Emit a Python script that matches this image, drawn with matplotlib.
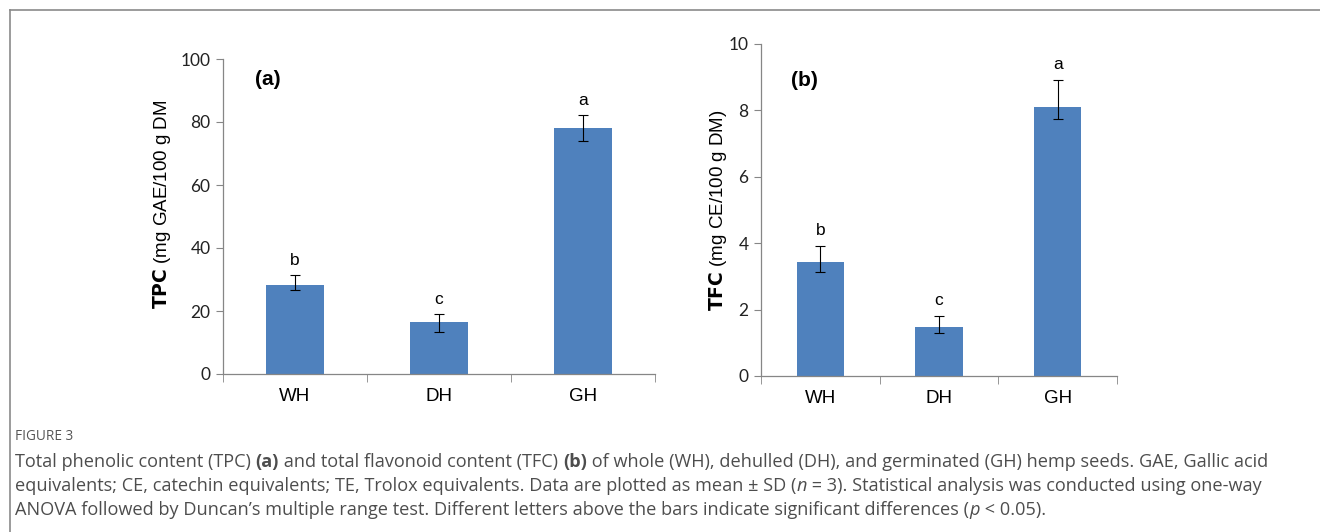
import matplotlib
matplotlib.use("Agg")
import matplotlib.pyplot as plt
from matplotlib.transforms import IdentityTransform
from matplotlib.lines import Line2D

# data
groups = ["WH", "DH", "GH"]
tpc = [28.3, 16.6, 78.0]
tpc_err_lo = [1.7, 3.2, 3.9]
tpc_err_hi = [3.0, 2.5, 4.2]
tpc_letters = ["b", "c", "a"]
tfc = [3.42, 1.48, 8.11]
tfc_err_lo = [0.28, 0.18, 0.38]
tfc_err_hi = [0.50, 0.33, 0.81]
tfc_letters = ["b", "c", "a"]

BAR = "#4f81bd"
AXIS = "#868686"
W, H = 1320, 532

fig = plt.figure(figsize=(W / 100, H / 100), dpi=100)


def px_axes(l, t, r, b):
    return fig.add_axes([l / W, 1 - b / H, (r - l) / W, (b - t) / H])


def panel(ax, vals, lo, hi, letters, ymax, step, ylab_bold, ylab_rest, lab_xy,
          tag, tag_x, tag_y, let_off):
    x = range(len(groups))
    ax.bar(x, vals, width=0.4, color=BAR, zorder=2)
    ax.errorbar(x, vals, yerr=[lo, hi], fmt="none", ecolor="black",
                elinewidth=0.8, capsize=3.8, capthick=0.8, zorder=3)
    for i, (v, h, s) in enumerate(zip(vals, hi, letters)):
        ax.text(i, v + h + let_off, s, ha="center", va="bottom",
                fontsize=12.5, family="Liberation Sans")
    ax.set_xlim(-0.5, len(groups) - 0.5)
    ax.set_ylim(0, ymax)
    ax.set_yticks([step * k for k in range(int(ymax / step) + 1)])
    ax.set_xticks(list(x))
    ax.set_xticklabels(groups, family="Liberation Sans", fontsize=13.5)
    ax.set_xticks([i - 0.5 for i in range(len(groups) + 1)], minor=True)
    ax.tick_params(axis="x", which="major", length=0, pad=10)
    ax.tick_params(axis="x", which="minor", length=6, color=AXIS, direction="out")
    ax.tick_params(axis="y", length=5, color=AXIS, direction="out", pad=4)
    for lab in ax.get_yticklabels():
        lab.set_family("Lato")
        lab.set_fontsize(12.5)
        lab.set_color("#222222")
    for side in ("top", "right"):
        ax.spines[side].set_visible(False)
    for side in ("left", "bottom"):
        ax.spines[side].set_color(AXIS)
        ax.spines[side].set_linewidth(0.9)
    ax.set_ylabel(r"$\bf{" + ylab_bold + "}$" + ylab_rest, family="Liberation Sans",
                  fontsize=13.5, va="center")
    ax.yaxis.set_label_coords(*lab_xy)
    ax.text(tag_x, tag_y, tag, fontsize=15, fontweight="bold",
            family="Liberation Sans", va="center", ha="center")


ax1 = px_axes(223, 59, 655, 374)
panel(ax1, tpc, tpc_err_lo, tpc_err_hi, tpc_letters, 100, 20,
      "TPC", " (mg GAE/100 g DM", (-61 / 432, 0.538), "(a)", -0.19, 93.5, 2.3)

ax2 = px_axes(761, 44, 1117, 376)
panel(ax2, tfc, tfc_err_lo, tfc_err_hi, tfc_letters, 10, 2,
      "TFC", " (mg CE/100 g DM)", (-43 / 356, 0.5), "(b)", -0.13, 8.9, 0.25)

# frame lines of the figure box
fig.add_artist(Line2D([10 / W, 10 / W], [0, 1 - 9.5 / H], color="#8a8a8a", lw=1.2,
                      transform=fig.transFigure))
fig.add_artist(Line2D([10 / W, 1], [1 - 9.5 / H, 1 - 9.5 / H], color="#8a8a8a", lw=1.2,
                      transform=fig.transFigure))

CAP = "#4d4d4d"
CAPFONT = "Open Sans"
CAPSIZE = 13.1

fig.text(15 / W, 1 - 437 / H, "FIGURE 3", fontsize=9.8, family=CAPFONT,
         color="#555555", va="center")

renderer = fig.canvas.get_renderer()


def rich_line(xpx, ypx, parts):
    x = xpx
    for s, style in parts:
        kw = dict(fontsize=CAPSIZE, family=CAPFONT, color=CAP)
        if style == "b":
            kw["fontweight"] = "bold"
        elif style == "i":
            kw["fontstyle"] = "italic"
        t = fig.text(x, H - ypx, s.replace(" ", "\u00a0"), transform=IdentityTransform(),
                     va="center", **kw)
        x += t.get_window_extent(renderer).width


rich_line(15, 462, [("Total phenolic content (TPC) ", ""), ("(a)", "b"),
                    (" and total flavonoid content (TFC) ", ""), ("(b)", "b"),
                    (" of whole (WH), dehulled (DH), and germinated (GH) hemp seeds. GAE, Gallic acid", "")])
rich_line(15, 486, [("equivalents; CE, catechin equivalents; TE, Trolox equivalents. Data are plotted as mean \u00b1 SD (", ""),
                    ("n", "i"),
                    (" = 3). Statistical analysis was conducted using one-way", "")])
rich_line(15, 510, [("ANOVA followed by Duncan\u2019s multiple range test. Different letters above the bars indicate significant differences (", ""),
                    ("p", "i"), (" < 0.05).", "")])

fig.savefig("out.png", dpi=100)
